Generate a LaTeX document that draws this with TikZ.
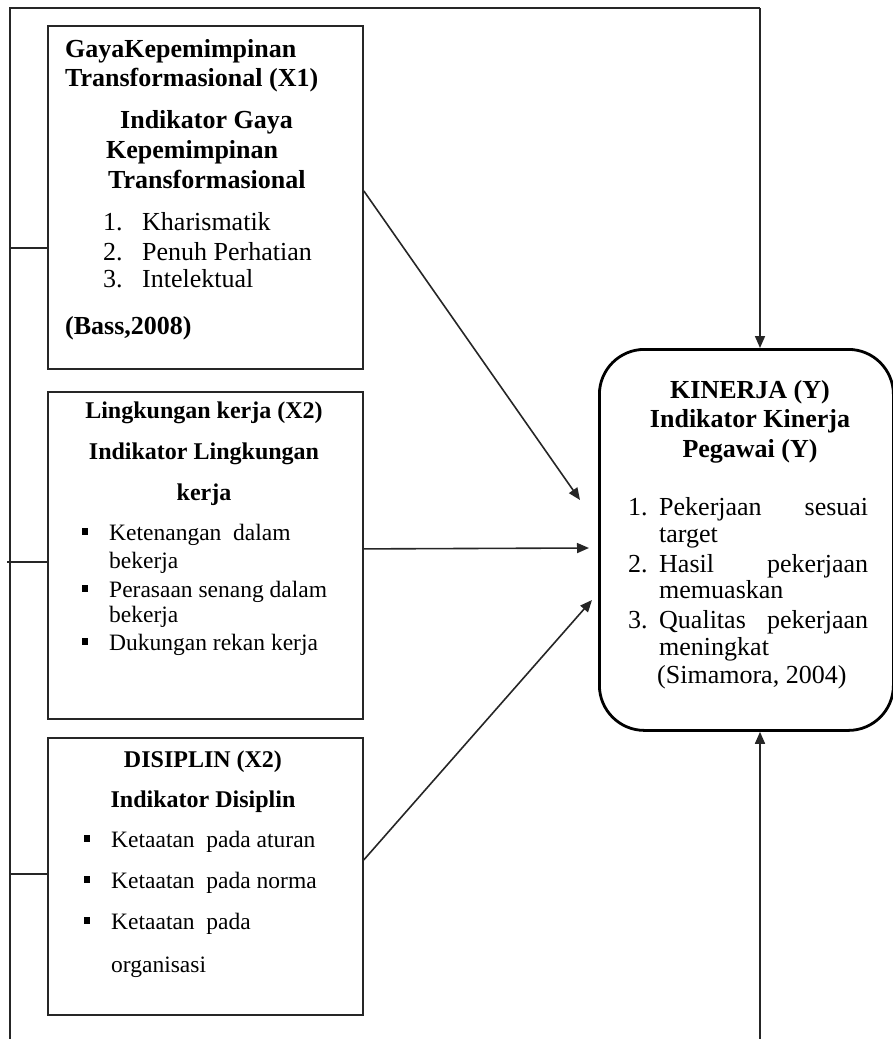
\documentclass[tikz,border=0pt]{standalone}
\usepackage{fontspec}
\setmainfont{Liberation Serif}
\usetikzlibrary{arrows.meta}
\newcommand\sqbul{\raisebox{5pt}{\rule{6pt}{7pt}}}
\begin{document}
\begin{tikzpicture}[x=1pt,y=-1pt,
  box/.style={draw=black!85,line width=1.8pt,minimum width=315pt,anchor=north west,inner sep=0pt},
  kbox/.style={draw=black,line width=2.8pt,rounded corners=45pt,minimum width=294pt,minimum height=381pt,anchor=north west,inner sep=0pt},
  link/.style={draw=black!85,line width=1.6pt},
  arr/.style={link,-{Triangle[length=12pt,width=10pt]}},
  ta/.style={inner sep=0pt,anchor=base west,font=\fontsize{26}{29}\selectfont},
  tab/.style={inner sep=0pt,anchor=base west,font=\fontsize{26}{29}\selectfont\bfseries},
  tb/.style={inner sep=0pt,anchor=base west,font=\fontsize{23.5}{28}\selectfont},
  tbb/.style={inner sep=0pt,anchor=base,font=\fontsize{24}{28}\selectfont\bfseries},
  tk/.style={inner sep=0pt,anchor=base west,font=\fontsize{26}{29}\selectfont},
  tkb/.style={inner sep=0pt,anchor=base,font=\fontsize{26}{29}\selectfont\bfseries}]
\useasboundingbox (0,0) rectangle (893,1039);

% boxes
\node[box,minimum height=343pt] (b1) at (47,25) {};
\node[box,minimum height=327pt] (b2) at (47,391) {};
\node[box,minimum height=277pt] (b3) at (47,737) {};
\node[kbox] (k) at (598,348) {};

% box 1 text
\node[tab] (t11) at (65,57) {GayaKepemimpinan};
\node[tab] (t12) at (65,86) {Transformasional (X1)};
\node[tab] (t13) at (120,128) {Indikator Gaya};
\node[tab] (t14) at (106,158) {Kepemimpinan};
\node[tab] (t15) at (108,188) {Transformasional};
\node[ta] (n11) at (103,230) {1.};
\node[ta] (i11) at (142,230) {Kharismatik};
\node[ta] (n12) at (103,260) {2.};
\node[ta] (i12) at (142,260) {Penuh Perhatian};
\node[ta] (n13) at (103,287) {3.};
\node[ta] (i13) at (142,287) {Intelektual};
\node[tab] (t16) at (65,334) {(Bass,2008)};

% box 2 text
\node[tbb] (t21) at (204,418) {Lingkungan kerja (X2)};
\node[tbb] (t22) at (204,459) {Indikator Lingkungan};
\node[tbb] (t23) at (204,500) {kerja};
\node[tb] (u21) at (82,540) {\sqbul};
\node[tb] (i21) at (109,540) {Ketenangan \ dalam};
\node[tb] (i22) at (109,568) {bekerja};
\node[tb] (u22) at (82,597) {\sqbul};
\node[tb] (i23) at (109,597) {Perasaan senang dalam};
\node[tb] (i24) at (109,622) {bekerja};
\node[tb] (u23) at (82,650) {\sqbul};
\node[tb] (i25) at (109,650) {Dukungan rekan kerja};

% box 3 text
\node[tbb] (t31) at (203,767) {DISIPLIN (X2)};
\node[tbb] (t32) at (203,807) {Indikator Disiplin};
\node[tb] (u31) at (84,847) {\sqbul};
\node[tb] (i31) at (111,847) {Ketaatan \ pada aturan};
\node[tb] (u32) at (84,888) {\sqbul};
\node[tb] (i32) at (111,888) {Ketaatan \ pada norma};
\node[tb] (u33) at (84,929) {\sqbul};
\node[tb] (i33) at (111,929) {Ketaatan \ pada};
\node[tb] (i34) at (111,972) {organisasi};

% kinerja text
\node[tkb] (tk1) at (750,398) {KINERJA (Y)};
\node[tkb] (tk2) at (750,427) {Indikator Kinerja};
\node[tkb] (tk3) at (750,457) {Pegawai (Y)};
\node[tk] (k1n) at (628,515) {1.};
\node[tk] (k1t) at (659,515) {\makebox[209pt][s]{Pekerjaan sesuai}};
\node[tk] (k1u) at (659,542) {target};
\node[tk] (k2n) at (628,572) {2.};
\node[tk] (k2t) at (659,572) {\makebox[209pt][s]{Hasil pekerjaan}};
\node[tk] (k2u) at (659,598) {memuaskan};
\node[tk] (k3n) at (628,628) {3.};
\node[tk] (k3t) at (659,628) {\makebox[209pt][s]{Qualitas pekerjaan}};
\node[tk] (k3u) at (659,655) {meningkat};
\node[tk] (k4) at (657,683) {(Simamora, 2004)};

% connectors
\coordinate (tl) at (10,8);
\coordinate (tr) at (760,8);
\coordinate (bl) at (10,1039);
\coordinate (br) at (760,1039);
\coordinate (j1) at (10,248);
\coordinate (j2) at (7,562);
\coordinate (j3) at (10,874);
\coordinate (e1) at (580,500);
\coordinate (e2) at (589,548);
\coordinate (e3) at (592,600);

\draw[link] (bl) -- (tl) -- (tr);
\draw[arr] (tr) -- (tr |- k.north);
\draw[arr] (br) -- (br |- k.south);
\draw[link] (j1) -- (j1 -| b1.west);
\draw[link] (j2) -- (j2 -| b2.west);
\draw[link] (j3) -- (j3 -| b3.west);
\draw[arr] ([yshift=6.5pt]b1.east) -- (e1);
\draw[arr] ([yshift=6.5pt]b2.east) -- (e2);
\draw[arr] ([yshift=16.5pt]b3.east) -- (e3);
\end{tikzpicture}
\end{document}
